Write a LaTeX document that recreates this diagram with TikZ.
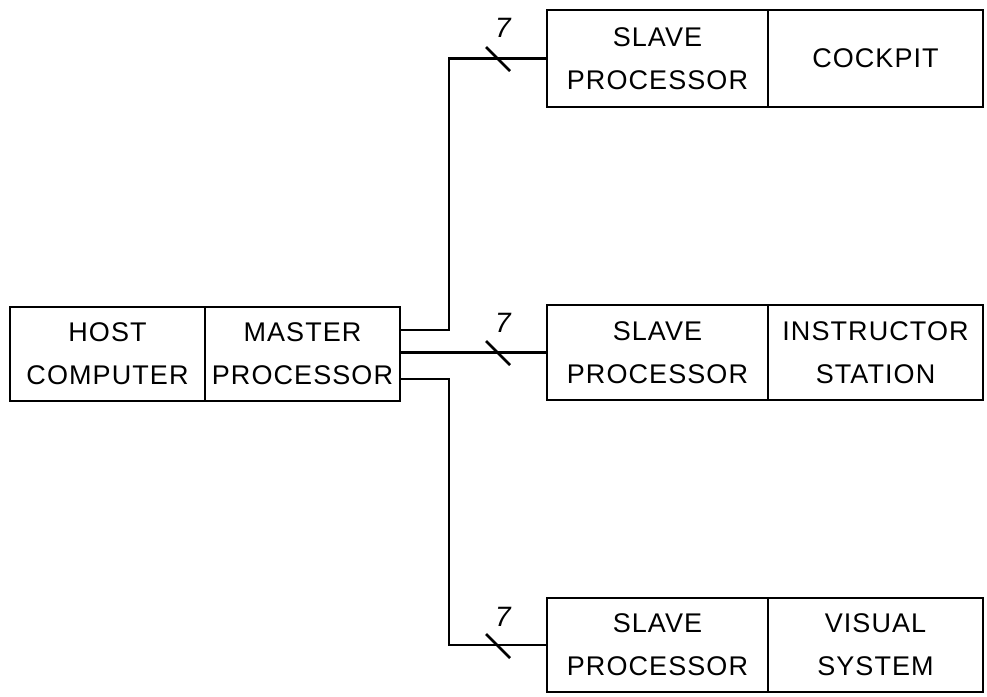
\documentclass[tikz,border=0pt]{standalone}
\usepackage{fontspec}
\setmainfont[LetterSpace=4]{Liberation Sans}
\begin{document}
\begin{tikzpicture}[x=1pt,y=-1pt,line width=2.8pt,
  blk/.style={draw,rectangle,line width=2.8pt,inner sep=0pt,align=center,font=\fontsize{27}{43}\selectfont},
  wire/.style={draw,line width=2.8pt},
  lbl/.style={font=\fontsize{28}{30}\selectfont\itshape,inner sep=0pt}]
\useasboundingbox (0,0) rectangle (987,696);
% left pair
\node[blk,minimum width=195pt,minimum height=94pt] (host) at (107.5,354) {HOST\\COMPUTER};
\node[blk,minimum width=195pt,minimum height=94pt] (master) at (302.5,354) {MASTER\\PROCESSOR};
% top
\node[blk,minimum width=221pt,minimum height=97pt] (s1) at (657.5,58.5) {SLAVE\\PROCESSOR};
\node[blk,minimum width=215pt,minimum height=97pt] (d1) at (875.5,58.5) {COCKPIT};
% middle
\node[blk,minimum width=221pt,minimum height=95pt] (s2) at (657.5,352.5) {SLAVE\\PROCESSOR};
\node[blk,minimum width=215pt,minimum height=95pt] (d2) at (875.5,352.5) {INSTRUCTOR\\STATION};
% bottom
\node[blk,minimum width=221pt,minimum height=94pt] (s3) at (657.5,645) {SLAVE\\PROCESSOR};
\node[blk,minimum width=215pt,minimum height=94pt] (d3) at (875.5,645) {VISUAL\\SYSTEM};
% connectors
\coordinate (j1) at (449,330);
\coordinate (j3) at (449,379);
\draw[wire] (master.east |- j1) -- (j1) |- (s1.west);
\draw[wire] (master.east |- s2.west) -- (s2.west);
\draw[wire] (master.east |- j3) -- (j3) |- (s3.west);
% bus slashes
\coordinate (k1) at (498,59);
\coordinate (k2) at (498,353);
\coordinate (k3) at (498,646);
\draw[wire] ([shift={(-12,-12)}]k1) -- ([shift={(12,12)}]k1);
\draw[wire] ([shift={(-12,-12)}]k2) -- ([shift={(12,12)}]k2);
\draw[wire] ([shift={(-12,-12)}]k3) -- ([shift={(12,12)}]k3);
\node[lbl] (n1) at (503,28) {7};
\node[lbl] (n2) at (503,323) {7};
\node[lbl] (n3) at (503,617) {7};
\end{tikzpicture}
\end{document}
